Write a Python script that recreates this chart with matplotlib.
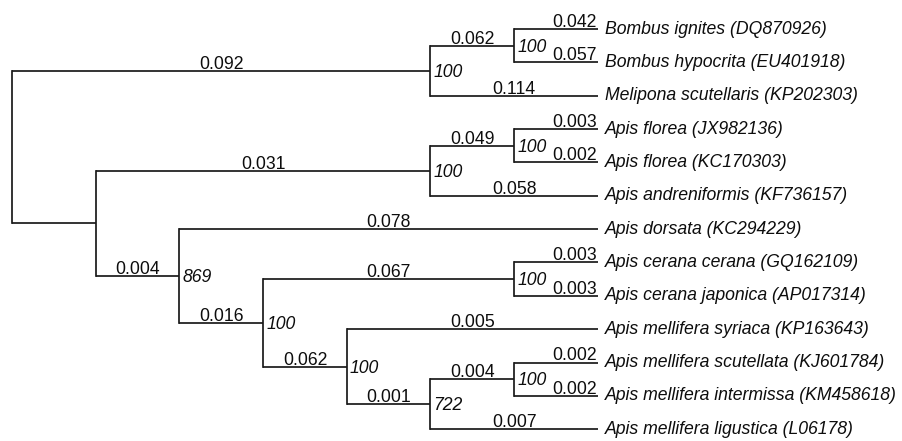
"""Phylogenetic tree of bee mitogenomes (cladogram layout, branch lengths as labels)."""

import matplotlib
matplotlib.use("Agg")
import matplotlib.pyplot as plt

# ---- data -----------------------------------------------------------------
leaf_names = [
    "Bombus ignites (DQ870926)",
    "Bombus hypocrita (EU401918)",
    "Melipona scutellaris (KP202303)",
    "Apis florea (JX982136)",
    "Apis florea (KC170303)",
    "Apis andreniformis (KF736157)",
    "Apis dorsata (KC294229)",
    "Apis cerana cerana (GQ162109)",
    "Apis cerana japonica (AP017314)",
    "Apis mellifera syriaca (KP163643)",
    "Apis mellifera scutellata (KJ601784)",
    "Apis mellifera intermissa (KM458618)",
    "Apis mellifera ligustica (L06178)",
]
leaf_lengths = ["0.042", "0.057", "0.114", "0.003", "0.002", "0.058", "0.078",
                "0.003", "0.003", "0.005", "0.002", "0.002", "0.007"]

# internal nodes; children are leaf indices (int) or node ids (str)
node_ids = ["bomb", "bees", "flor", "dwarf", "sct", "m722", "mell", "cer",
            "cav", "core", "apis", "root"]
node_children = [
    [0, 1],
    ["bomb", 2],
    [3, 4],
    ["flor", 5],
    [10, 11],
    ["sct", 12],
    [9, "m722"],
    [7, 8],
    ["cer", "mell"],
    [6, "cav"],
    ["dwarf", "core"],
    ["bees", "apis"],
]
node_support = ["100", "100", "100", "100", "100", "722", "100", "100",
                "100", "869", None, None]
node_lengths = ["0.062", "0.092", "0.049", "0.031", "0.004", "0.001", "0.062",
                "0.067", "0.016", "0.004", None, None]

# ---- layout ---------------------------------------------------------------
X0, DX = 12, 83.7
Y0, DY = 29, 33.35
FS = 12.7
LW = 1.25
LINE = "#1a1a1a"
TXT = "#0d0d0d"
FONT = ["Liberation Sans", "DejaVu Sans"]

children = dict(zip(node_ids, node_children))
support = dict(zip(node_ids, node_support))
lengths = dict(zip(node_ids, node_lengths))

height = {}
ypos = {}


def walk(n):
    if isinstance(n, int):
        height[n] = 0
        ypos[n] = Y0 + n * DY
        return
    for c in children[n]:
        walk(c)
    height[n] = max(height[c] for c in children[n]) + 1
    ypos[n] = (ypos[children[n][0]] + ypos[children[n][-1]]) / 2


walk("root")
top = height["root"]


def xpos(n):
    return X0 + (top - height[n]) * DX


fig = plt.figure(figsize=(9.03, 4.41), dpi=100)
ax = fig.add_axes([0, 0, 1, 1])
ax.set_xlim(0, 903)
ax.set_ylim(441, 0)
ax.axis("off")

for n in node_ids:
    kids = children[n]
    px = xpos(n)
    ax.plot([px, px], [ypos[kids[0]], ypos[kids[-1]]], color=LINE, lw=LW,
            solid_capstyle="projecting")
    cherry = all(isinstance(c, int) for c in kids)
    for c in kids:
        cx = xpos(c)
        ax.plot([px, cx], [ypos[c], ypos[c]], color=LINE, lw=LW,
                solid_capstyle="butt")
        lab = leaf_lengths[c] if isinstance(c, int) else lengths[c]
        if lab is None:
            continue
        if cherry:
            ax.text(cx - 1, ypos[c] - 2, lab, ha="right", va="baseline",
                    fontsize=FS, family=FONT, color=TXT)
        else:
            ax.text((px + cx) / 2, ypos[c] - 2, lab, ha="center",
                    va="baseline", fontsize=FS, family=FONT, color=TXT)
    if support[n] is not None:
        ax.text(px + 3, ypos[n] + 1.5, support[n], ha="left", va="center",
                fontsize=FS, family=FONT, style="italic", color=TXT)

for i, name in enumerate(leaf_names):
    ax.text(xpos(i) + 7, ypos[i], name, ha="left", va="center",
            fontsize=FS, family=FONT, style="italic", color=TXT)

fig.savefig("out.png", dpi=100)
